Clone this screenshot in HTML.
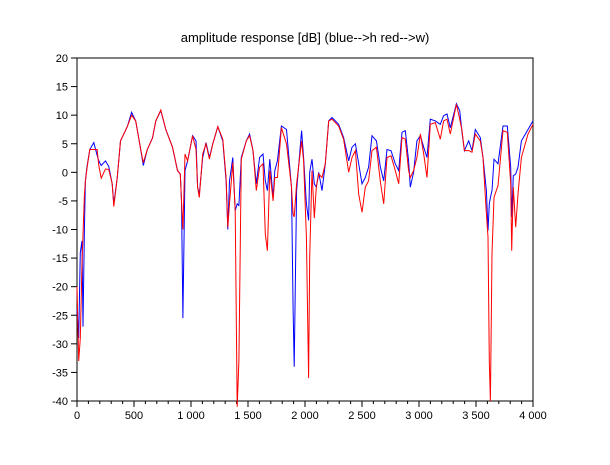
<!DOCTYPE html>
<html><head><meta charset="utf-8"><style>
body{margin:0;background:#fff;}
svg text{font-family:"Liberation Sans",sans-serif;font-size:11px;fill:#000;}
</style></head><body>
<svg width="610" height="460">
<rect width="610" height="460" fill="#fff"/>
<g id="axes"></g>
<g id="series"></g>
<text x="305" y="42" text-anchor="middle" style="font-size:13px">amplitude response [dB] (blue--&gt;h  red--&gt;w)</text>
</svg>
<script>
const freqs=[0,15,29,44,53,65,74,88,112,147,176,191,212,250,279,309,323,353,382,441,479,515,559,582,617,662,691,735,779,838,882,906,917,929,947,970,1014,1044,1058,1073,1103,1132,1161,1191,1235,1279,1308,1323,1338,1367,1388,1405,1420,1441,1485,1514,1544,1573,1602,1632,1652,1670,1691,1720,1735,1758,1793,1838,1882,1896,1905,1926,1970,1988,2012,2032,2041,2061,2082,2099,2120,2149,2178,2208,2237,2295,2339,2383,2412,2442,2471,2500,2529,2558,2588,2626,2661,2690,2719,2754,2792,2822,2851,2880,2909,2924,2953,2982,3012,3041,3070,3099,3143,3187,3216,3246,3275,3328,3357,3377,3398,3436,3465,3494,3538,3561,3591,3605,3617,3626,3640,3658,3693,3737,3775,3804,3813,3827,3848,3868,3898,3956,4000];
const hValues=[-24,-29,-14,-12,-27,-10,-1.5,1,4,5.2,3,2,1.2,2,1,-2,-5.5,-1,5.5,8,10.5,9,4,1.2,4,6,9,10.8,7.5,4.4,0.3,-0.3,-5,-25.5,0.3,2,6.4,5.5,-2.6,-3.8,2.6,5.2,2.6,5,8,5.5,-1.5,-10,-1.5,2.6,-6.7,-5.5,-5.8,2.6,5.5,6.7,3.8,-2,2.6,3.2,-1.5,-3.2,2.3,-4.4,0.3,2,8.1,7.5,-2.6,-24,-34,-3.2,7.3,2.6,-5.5,-8.4,0,2.3,-2,-2.6,0,-3.2,1.5,9,9.6,8.4,6.1,2,4.4,5,1.5,-2,-0.9,0.9,6.4,5.5,0.9,-1.5,4,3.8,1.5,0.3,7,7.3,2,-2.6,0,5.5,6.4,4.4,2.6,9.3,9,8.4,9.9,10.2,7.8,12,10.8,7,3.8,5.5,3.8,7.5,6.1,2.6,-3.2,-10.2,-5.5,-4.4,-3.2,2.3,1.5,8.1,8.1,0.9,-7.8,-0.6,-0.3,0.9,5.5,7.5,9];
const wValues=[-20,-33,-29,-16,-11,-4,-1.5,0.7,4,4,4,1.2,-1,0.6,0.5,-2,-6,-1,5.5,8,10,9,4,1.7,4,6,9,10.9,7.5,4.4,0.3,-0.3,-5,-10,3.2,2,6.4,4,-2.6,-4.4,3.2,5,2.3,5,8,5.8,-0.9,-9.6,-5.5,1.7,-6.7,-41,-33,2.3,5.5,6.4,3.8,-3.2,0.9,1.5,-10.8,-13.7,0.3,-5,-0.9,-0.9,7.8,5,-2.6,-7.3,-7.8,-2,5.5,2,-11.3,-36,-14.8,0.3,-8,-2.6,-0.3,-0.9,1.5,9,9.3,8.1,5.8,0,2.6,3.8,-3.8,-7,-2.6,-1.5,3.8,4.4,-1.7,-5.5,2.6,2.9,0.3,-2,6.1,5.8,0.3,-0.9,0.3,2.6,6.7,3.2,-0.9,8.4,8.7,5.8,9,9.3,6.7,11.9,9.3,7.3,3.8,3.8,3.5,6.7,5.5,2.6,-7.3,-11.3,-33,-40,-14.2,-4.4,-2.3,7.3,7,-2,-13.7,-2.6,-9.6,-3.8,2.6,6.7,8.4];
const xTicks=[0,500,1000,1500,2000,2500,3000,3500,4000];
const xTickLabels=["0","500","1 000","1 500","2 000","2 500","3 000","3 500","4 000"];
const yTicks=[20,15,10,5,0,-5,-10,-15,-20,-25,-30,-35,-40];
const NS="http://www.w3.org/2000/svg";
const L=77,R=533,T=58,B=401;
const xs=f=>L+(f/4000)*(R-L);
const ys=v=>T+(20-v)/60*(B-T);
function mk(tag,attrs,parent){const e=document.createElementNS(NS,tag);for(const k in attrs)e.setAttribute(k,attrs[k]);parent.appendChild(e);return e;}
const ax=document.getElementById('axes');
const frame=mk('rect',{x:L,y:T,width:R-L,height:B-T,fill:'none',stroke:'#000','stroke-width':1},ax);


for(let f=0;f<=4000;f+=100){
  const major=f%500===0;
  const t=mk('line',{x1:xs(f),x2:xs(f),y1:B,y2:B+(major?6:3),stroke:'#000'},ax);
  
  
}
xTicks.forEach((f,i)=>{
  const t=mk('text',{x:xs(f),y:B+18,'text-anchor':'middle'},ax);t.textContent=xTickLabels[i];
  
  
});
yTicks.forEach(v=>{
  const l=mk('line',{x1:L-6,x2:L,y1:ys(v),y2:ys(v),stroke:'#000'},ax);
  
  
  const t=mk('text',{x:L-9,y:ys(v)+4,'text-anchor':'end'},ax);t.textContent=String(v);
  
  
});
const sg=document.getElementById('series');
function line(vals,color,name){
  const pts=freqs.map((f,i)=>xs(f).toFixed(1)+','+ys(vals[i]).toFixed(1)).join(' ');
  const p=mk('polyline',{points:pts,fill:'none',stroke:color,'stroke-width':1},sg);
  
  
}
line(hValues,'#0000ff','series-h-blue');
line(wValues,'#ff0000','series-w-red');
</script>
</body></html>
